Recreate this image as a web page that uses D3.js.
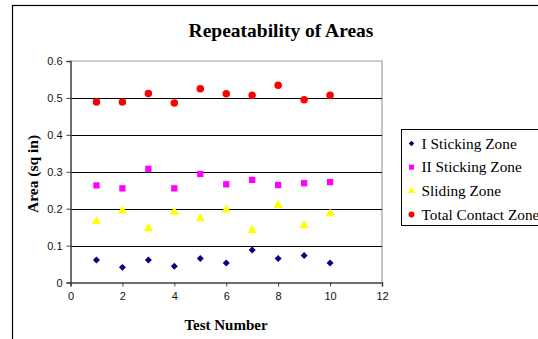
<!DOCTYPE html>
<html>
<head>
<meta charset="utf-8">
<script src="https://cdn.jsdelivr.net/npm/d3@7"></script>
<style>
  html, body { margin: 0; padding: 0; background: #fff; }
  svg { display: block; }
</style>
</head>
<body>
<script>
// Test numbers and measured areas (sq in) for each zone
const testNumbers = [1, 2, 3, 4, 5, 6, 7, 8, 9, 10];
const stickingZone1 = [0.061, 0.041, 0.061, 0.044, 0.065, 0.053, 0.088, 0.065, 0.073, 0.053];
const stickingZone2 = [0.263, 0.255, 0.308, 0.255, 0.294, 0.266, 0.278, 0.264, 0.269, 0.272];
const slidingZone   = [0.165, 0.194, 0.147, 0.191, 0.173, 0.197, 0.141, 0.209, 0.155, 0.186];
const totalContact  = [0.489, 0.489, 0.512, 0.486, 0.525, 0.511, 0.507, 0.534, 0.495, 0.507];

const seriesNames = ["I Sticking Zone", "II Sticking Zone", "Sliding Zone", "Total Contact Zone"];
const xTicks = [0, 2, 4, 6, 8, 10, 12];
const yTicks = [0, 0.1, 0.2, 0.3, 0.4, 0.5, 0.6];

const series = [
  { name: seriesNames[0], values: stickingZone1, color: "#000080", shape: "diamond" },
  { name: seriesNames[1], values: stickingZone2, color: "#FF00FF", shape: "square" },
  { name: seriesNames[2], values: slidingZone,   color: "#FFFF00", shape: "triangle" },
  { name: seriesNames[3], values: totalContact,  color: "#FF0000", shape: "circle" }
];

const W = 538, H = 339;
const svg = d3.select("body").append("svg").attr("width", W).attr("height", H);

// Chart frame
svg.append("rect")
  .attr("x", 12.5).attr("y", 5.5).attr("width", 600).attr("height", 400)
  .attr("fill", "#fff").attr("stroke", "#000").attr("stroke-width", 1.2);

const plot = { left: 70.5, right: 382, top: 61, bottom: 282.5 };
const x = d3.scaleLinear().domain([0, 12]).range([plot.left, plot.right]);
const y = d3.scaleLinear().domain([0, 0.6]).range([plot.bottom, plot.top]);

// Plot area border (top/right)
svg.append("path")
  .attr("d", `M${plot.left},${y(0.6)}H${plot.right}V${plot.bottom}`)
  .attr("fill", "none").attr("stroke", "#a0a0a0").attr("stroke-width", 1.2);

// Horizontal gridlines
svg.append("g").selectAll("line")
  .data(yTicks.filter(t => t > 0 && t < 0.6))
  .join("line")
  .attr("x1", plot.left).attr("x2", plot.right)
  .attr("y1", d => Math.round(y(d)) + 0.5).attr("y2", d => Math.round(y(d)) + 0.5)
  .attr("stroke", "#000").attr("stroke-width", 1);

// Axes
const yAxis = svg.append("g")
  .attr("transform", `translate(${plot.left},0)`)
  .call(d3.axisLeft(y).tickValues(yTicks).tickSize(4).tickPadding(4)
    .tickFormat(d => d === 0 ? "0" : d3.format(".1f")(d)));

const xAxis = svg.append("g")
  .attr("transform", `translate(0,${plot.bottom})`)
  .call(d3.axisBottom(x).tickValues(xTicks).tickFormat(d3.format("d")).tickSize(4).tickPadding(6));

[xAxis, yAxis].forEach(g => {
  g.select(".domain").attr("stroke", "#404040").attr("stroke-width", 1.5);
  g.selectAll(".tick line").attr("stroke", "#404040");
  g.selectAll("text")
    .attr("font-family", "Liberation Sans, Arial, sans-serif")
    .attr("font-size", 11).attr("fill", "#111");
});

// Marker shapes
const symbolFor = {
  diamond: (s) => d3.symbol().type(d3.symbolSquare).size(s * 0.55)(),
  square: (s) => d3.symbol().type(d3.symbolSquare).size(s * 0.9)(),
  triangle: (s) => d3.symbol().type(d3.symbolTriangle).size(s * 0.85)(),
  circle: (s) => d3.symbol().type(d3.symbolCircle).size(s)()
};
const rotFor = { diamond: 45, square: 0, triangle: 0, circle: 0 };

series.forEach(s => {
  svg.append("g").selectAll("path")
    .data(s.values)
    .join("path")
    .attr("d", symbolFor[s.shape](44))
    .attr("transform", (d, i) => `translate(${x(testNumbers[i])},${y(d)}) rotate(${rotFor[s.shape]})`)
    .attr("fill", s.color);
});

// Titles
svg.append("text")
  .attr("x", 281).attr("y", 37)
  .attr("text-anchor", "middle")
  .attr("font-family", "Liberation Serif, Times New Roman, serif")
  .attr("font-weight", "bold").attr("font-size", 19.5)
  .text("Repeatability of Areas");

svg.append("text")
  .attr("x", 226).attr("y", 330)
  .attr("text-anchor", "middle")
  .attr("font-family", "Liberation Serif, Times New Roman, serif")
  .attr("font-weight", "bold").attr("font-size", 15)
  .text("Test Number");

svg.append("text")
  .attr("transform", "translate(38,174) rotate(-90)")
  .attr("text-anchor", "middle")
  .attr("font-family", "Liberation Serif, Times New Roman, serif")
  .attr("font-weight", "bold").attr("font-size", 15.5)
  .text("Area (sq in)");

// Legend
const legend = svg.append("g");
legend.append("rect")
  .attr("x", 401.5).attr("y", 129.5).attr("width", 200).attr("height", 96)
  .attr("fill", "#fff").attr("stroke", "#000").attr("stroke-width", 1);

const legendY = d3.scalePoint().domain(seriesNames).range([143.5, 214.5]);
const items = legend.selectAll("g.item")
  .data(series)
  .join("g")
  .attr("class", "item")
  .attr("transform", d => `translate(0,${legendY(d.name)})`);
items.append("path")
  .attr("d", d => symbolFor[d.shape](28))
  .attr("transform", d => `translate(411.5,0) rotate(${rotFor[d.shape]})`)
  .attr("fill", d => d.color);
items.append("text")
  .attr("x", 421.5).attr("y", 5)
  .attr("font-family", "Liberation Serif, Times New Roman, serif")
  .attr("font-size", 15.3).attr("fill", "#000")
  .text(d => d.name);
</script>
</body>
</html>
